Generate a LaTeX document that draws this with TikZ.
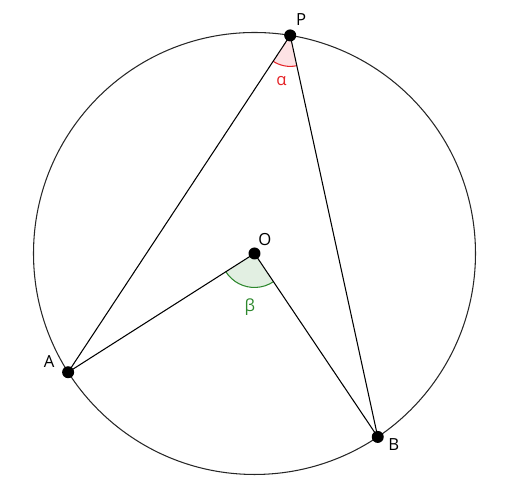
\documentclass[tikz,border=0pt]{standalone}
\usepackage{fontspec}
\setmainfont{Open Sans}
\usetikzlibrary{angles}
\definecolor{alphared}{RGB}{228,36,40}
\definecolor{alphafill}{RGB}{253,226,228}
\definecolor{betagreen}{RGB}{46,136,46}
\definecolor{betafill}{RGB}{226,239,226}
\begin{document}
\begin{tikzpicture}[x=0.02cm,y=0.02cm,line width=0.6pt,
	dot/.style={circle,fill=black,inner sep=0pt,minimum size=0.24cm},
	lab/.style={font=\fontsize{9.5}{11}\selectfont}]
\useasboundingbox (0,0) rectangle (512,499);
\coordinate (O) at (254.5,245.5);
\coordinate (P) at ([shift={(80.7:221)}]O);
\coordinate (A) at ([shift={(212.5:221)}]O);
\coordinate (B) at ([shift={(303.9:221)}]O);
% angle marks
\pic [draw=alphared,fill=alphafill,angle radius=0.62cm] {angle=A--P--B};
\pic [draw=betagreen,fill=betafill,angle radius=0.68cm] {angle=A--O--B};
% chords and circle
\draw (A) -- (P) -- (B);
\draw (A) -- (O) -- (B);
\draw [black!85] (O) circle (221);
% points
\node [dot] (p) at (P) {};
\node [dot] (o) at (O) {};
\node [dot] (a) at (A) {};
\node [dot] (b) at (B) {};
\node [lab] (Pl) at ([shift={(11,16)}]P) {P};
\node [lab] (Ol) at ([shift={(10.5,13.5)}]O) {O};
\node [lab] (Al) at ([shift={(-19,10.5)}]A) {A};
\node [lab] (Bl) at ([shift={(16,-7.5)}]B) {B};
\node [lab,text=alphared] (al) at ([shift={(259:46)}]P) {α};
\node [lab,text=betagreen] (be) at ([shift={(265:54)}]O) {β};
\end{tikzpicture}
\end{document}
